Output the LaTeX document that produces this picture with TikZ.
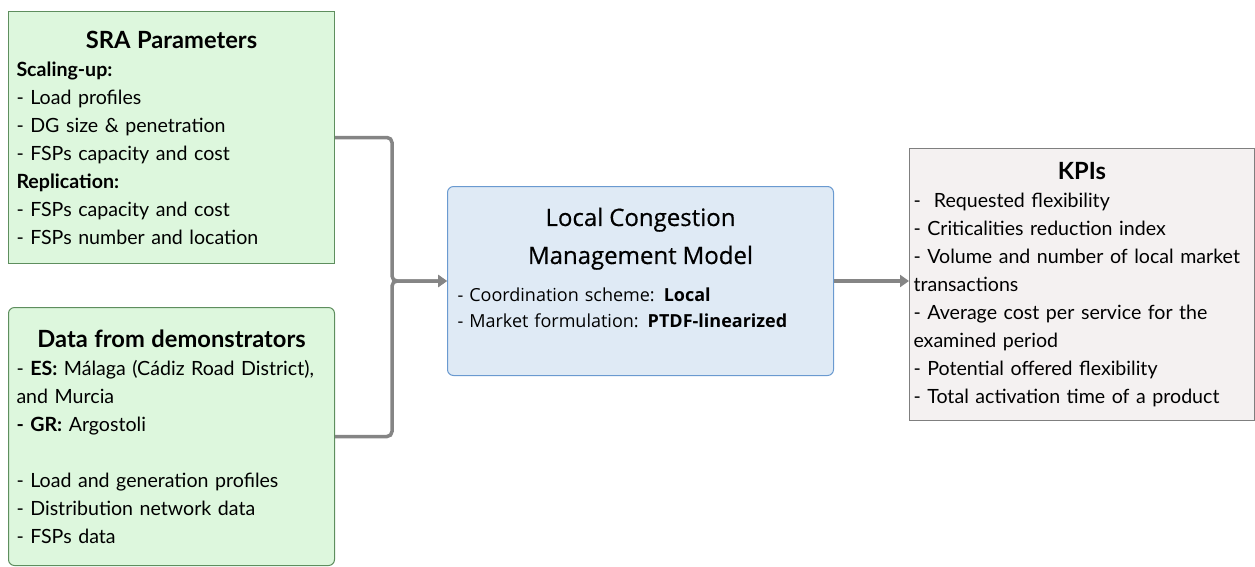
\documentclass[tikz,border=0pt]{standalone}
\usepackage{fontspec}
\setmainfont{Lato}
\newfontfamily\modelfont{Open Sans}
\newfontfamily\modelhead{Open Sans}[FakeBold=0.5]
\usepackage{tikz}
\usetikzlibrary{shapes.geometric, arrows.meta}
\definecolor{inputfill}{HTML}{DDF7DD}
\definecolor{inputdraw}{HTML}{5E8E5E}
\definecolor{modelfill}{HTML}{DFEAF5}
\definecolor{modeldraw}{HTML}{6A9AD0}
\definecolor{kpifill}{HTML}{F4F1F1}
\definecolor{kpidraw}{HTML}{7F7F7F}
\definecolor{linkgray}{HTML}{858585}
\newcommand{\bodysize}{\fontsize{19.6}{28}\selectfont}
\newcommand{\headsize}{\fontsize{23.7}{30}\selectfont\bfseries}
\tikzstyle{input} = [rectangle, anchor=north west, draw=inputdraw, fill=inputfill, line width=1pt, align=left, inner xsep=8pt, font=\bodysize]
\tikzstyle{model} = [rectangle, rounded corners=6pt, anchor=north west, draw=modeldraw, fill=modelfill, line width=1pt, align=left, inner xsep=10pt, font=\modelfont\fontsize{18}{26}\selectfont]
\tikzstyle{kpi} = [rectangle, anchor=north west, draw=kpidraw, fill=kpifill, line width=1pt, align=left, inner xsep=4pt, font=\bodysize]
\tikzstyle{arrow} = [line width=3.5pt, draw=linkgray, rounded corners=5pt, -{Triangle[length=9pt,width=12pt]}]

\begin{document}
\begin{tikzpicture}[x=1pt, y=-1pt]
	\useasboundingbox (0,0) rectangle (1255,566);
	\node[input, minimum width=326, minimum height=252, text width=310](sra) at (8,11){%
		{\centering\headsize SRA Parameters\par}
		\textbf{Scaling-up:}\\
		- Load profiles\\
		- DG size \& penetration\\
		- FSPs capacity and cost\\
		\textbf{Replication:}\\
		- FSPs capacity and cost\\
		- FSPs number and location};
	\node[input, rounded corners=6pt, minimum width=326, minimum height=258, text width=310](data) at (8,307){%
		{\centering\headsize Data from demonstrators\par}
		- \textbf{ES:} Málaga (Cádiz Road District),\\
		and Murcia\\
		\textbf{- GR:} Argostoli\\
		\mbox{}\\
		- Load and generation profiles\\
		- Distribution network data\\
		- FSPs data};
	\node[model, minimum width=386, minimum height=189, text width=366](lcm) at (447,186){%
		{\centering\modelhead\fontsize{24}{38}\selectfont Local Congestion\\Management Model\par}
		\vspace{12pt}
		- Coordination scheme: \textbf{Local}\\
		- Market formulation: \textbf{PTDF-linearized}\par\vskip 26pt\hrule height 0pt};
	\node[kpi, minimum width=345, minimum height=272, text width=337](kpis) at (909,148){%
		{\centering\headsize KPIs\par}
		-\ \ Requested flexibility\\
		- Criticalities reduction index\\
		- Volume and number of local market\\
		transactions\\
		- Average cost per service for the\\
		examined period\\
		- Potential offered flexibility\\
		- Total activation time of a product};

	\draw[arrow] (sra.east) -- ++(57,0) |- (lcm.west);
	\draw[arrow] (data.east) -- ++(57,0) |- (lcm.west);
	\draw[arrow] (lcm.east) -- (lcm.east -| kpis.west);
\end{tikzpicture}
\end{document}
